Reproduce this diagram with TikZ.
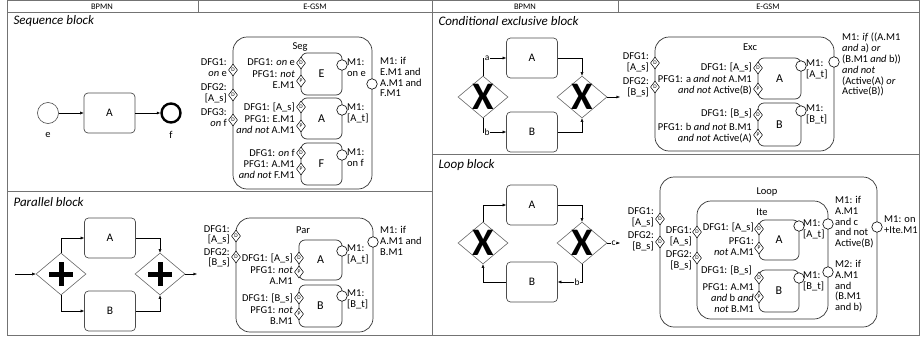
\documentclass[tikz,border=0pt]{standalone}
\usepackage{fontspec}
\setmainfont{Carlito}
\usetikzlibrary{shapes.geometric,arrows.meta}

\begin{document}
\begin{tikzpicture}[
        x=1pt, y=-1pt,
        font=\fontsize{10.5}{10.8}\selectfont,
        >={Latex[length=3.5pt,width=3pt]},
        grid/.style={draw=black!55, line width=0.6pt},
        head/.style={font=\fontsize{8.5}{9}\selectfont},
        blocktitle/.style={anchor=west, font=\fontsize{13}{14}\selectfont\itshape},
        task/.style={draw=black!70, line width=0.7pt, rounded corners=4pt, minimum width=51pt, minimum height=40pt, font=\fontsize{11.5}{12}\selectfont},
        event/.style={circle, draw=black!70, line width=0.6pt, minimum size=21pt, inner sep=0pt},
        endevent/.style={event, draw=black, line width=2.4pt, minimum size=19pt},
        gate/.style={diamond, draw=black!60, line width=0.6pt, minimum width=50pt, minimum height=42pt, inner sep=0pt},
        xgate/.style={gate, label={[font=\fontsize{39}{39}\selectfont\bfseries]center:X}},
        pgate/.style={gate, path picture={
            \draw[draw=black, line width=5pt] ([xshift=-12pt]path picture bounding box.center) -- ([xshift=12pt]path picture bounding box.center)
                ([yshift=-12pt]path picture bounding box.center) -- ([yshift=12pt]path picture bounding box.center);}},
        block/.style={draw=black!80, line width=0.7pt, rounded corners=14pt},
        stage/.style={draw=black!80, line width=0.7pt, rounded corners=6pt, font=\fontsize{12}{12}\selectfont},
        sentry/.style={diamond, draw, fill=white, line width=0.5pt, inner sep=0pt, minimum width=9pt, minimum height=12pt, font=\fontsize{5.5}{5.5}\selectfont},
        mstone/.style={circle, draw, fill=white, line width=0.6pt, minimum size=10.5pt, inner sep=0pt},
        lbl/.style={align=right, anchor=east, inner sep=0pt},
        lbr/.style={align=left, anchor=north west, inner sep=0pt},
        cond/.style={fill=white, inner sep=0.5pt, font=\fontsize{9.5}{9.5}\selectfont}
    ]
    \useasboundingbox (0,0) rectangle (920,340);

    \draw[grid] (7,0.5) rectangle (919.5,335);
    \draw[grid] (7,12) -- (919.5,12);
    \draw[grid] (198,0.5) -- (198,12);
    \draw[grid] (618,0.5) -- (618,12);
    \draw[grid] (432,0.5) -- (432,335);
    \draw[grid] (7,191) -- (432,191);
    \draw[grid] (432,154) -- (919.5,154);

    \node[head] (h1) at (102,6.5) {BPMN};
    \node[head] (h2) at (315,6.5) {E-GSM};
    \node[head] (h3) at (525,6.5) {BPMN};
    \node[head] (h4) at (768,6.5) {E-GSM};

    \node[blocktitle] (t1) at (10,21) {Sequence block};
    \node[blocktitle] (t2) at (10,202) {Parallel block};
    \node[blocktitle] (t3) at (435,21) {Conditional exclusive block};
    \node[blocktitle] (t4) at (435,165) {Loop block};

    % sequence, BPMN
    \node[event] (e) at (48,113) {};
    \node[task] (sA) at (109.5,113) {A};
    \node[endevent] (f) at (171,113) {};
    \node (eLbl) at (48,135) {e};
    \node (fLbl) at (171,135) {f};
    \draw[->] (e) -- (sA);
    \draw[->] (sA) -- (f);

    % sequence, E-GSM
    \node[block, minimum width=139pt, minimum height=152pt] (seg) at (302.5,113) {};
    \node (segT) at (300,47) {Seg};
    \node[stage, minimum width=41pt, minimum height=42pt] (segE) at (321.5,74) {E};
    \node[stage, minimum width=41pt, minimum height=41pt] (segA) at (321.5,118.5) {A};
    \node[stage, minimum width=41pt, minimum height=42pt] (segF) at (321.5,164) {F};
    \node[sentry] (segD1) at (233,70) {D};
    \node[sentry] (segD2) at (233,95) {D};
    \node[sentry] (segD3) at (233,120) {D};
    \node[lbl] at (227,68) {DFG1:\\\textit{on} e};
    \node[lbl] at (227,93) {DFG2:\\{[A\_s]}};
    \node[lbl] at (227,118) {DFG3:\\\textit{on} f};
    \node[sentry] (segED) at (301,63) {D};
    \node[sentry] (segEP) at (301,81) {P};
    \node[lbl] at (295,62) {DFG1: \textit{on} e};
    \node[lbl] at (295,80) {PFG1: \textit{not}\\E.M1};
    \node[sentry] (segAD) at (301,107) {D};
    \node[sentry] (segAP) at (301,126) {P};
    \node[lbl] at (295,107) {DFG1: [A\_s]};
    \node[lbl] at (295,125) {PFG1: E.M1\\\textit{and not} A.M1};
    \node[sentry] (segFD) at (301,153) {D};
    \node[sentry] (segFP) at (301,169) {P};
    \node[lbl] at (295,153) {DFG1: \textit{on} f};
    \node[lbl] at (295,170) {PFG1: A.M1\\\textit{and not} F.M1};
    \node[mstone] (segEM) at (342,65) {};
    \node[mstone] (segAM) at (342,110) {};
    \node[mstone] (segFM) at (342,155) {};
    \node[mstone] (segM) at (372,84) {};
    \node[lbr] at (347,59) {M1:\\on e};
    \node[lbr] at (347,104) {M1:\\{[A\_t]}};
    \node[lbr] at (347,149) {M1:\\on f};
    \node[lbr] at (380,57) {M1: if\\E.M1 and\\A.M1 and\\F.M1};

    % parallel, BPMN
    \coordinate (pIn) at (15,274);
    \coordinate (pOut) at (197,274);
    \node[pgate] (pG1) at (61,274) {};
    \node[task] (pA) at (110,238) {A};
    \node[task] (pB) at (110,311) {B};
    \node[pgate] (pG2) at (160,274) {};
    \draw[->] (pIn) -- (pG1);
    \draw[->] (pG1.north) |- (pA);
    \draw[->] (pG1.south) |- (pB);
    \draw[->] (pA) -| (pG2.north);
    \draw[->] (pB) -| (pG2.south);
    \draw[->] (pG2) -- (pOut);

    % parallel, E-GSM
    \node[block, minimum width=137pt, minimum height=114pt] (par) at (304.5,275) {};
    \node (parT) at (303,230) {Par};
    \node[stage, minimum width=43pt, minimum height=40pt] (parA) at (320.5,260) {A};
    \node[stage, minimum width=43pt, minimum height=42pt] (parB) at (320.5,306) {B};
    \node[sentry] (parD1) at (236,236) {D};
    \node[sentry] (parD2) at (236,257) {D};
    \node[lbl, font=\fontsize{10.5}{9.8}\selectfont] at (230,235) {DFG1:\\{[A\_s]}};
    \node[lbl, font=\fontsize{10.5}{9.8}\selectfont] at (230,257.5) {DFG2:\\{[B\_s]}};
    \node[sentry] (parAD) at (299,258) {D};
    \node[sentry] (parAP) at (299,272) {P};
    \node[lbl] at (293,258) {DFG1: [A\_s]};
    \node[lbl] at (293,276) {PFG1: \textit{not}\\A.M1};
    \node[sentry] (parBD) at (299,298) {D};
    \node[sentry] (parBP) at (299,314) {P};
    \node[lbl] at (293,298) {DFG1: [B\_s]};
    \node[lbl] at (293,316) {PFG1: \textit{not}\\B.M1};
    \node[mstone] (parAM) at (342,251) {};
    \node[mstone] (parBM) at (342,296) {};
    \node[mstone] (parM) at (373,242) {};
    \node[lbr] at (347,245) {M1:\\{[A\_t]}};
    \node[lbr] at (347,290) {M1:\\{[B\_t]}};
    \node[lbr] at (380,226) {M1: if\\A.M1 and\\B.M1};

    % exclusive, BPMN
    \coordinate (xOut) at (620,97);
    \node[xgate] (xG1) at (483,97) {};
    \node[task] (xA) at (532,58) {A};
    \node[task] (xB) at (532,132) {B};
    \node[xgate] (xG2) at (582,97) {};
    \draw[->] (xG1.north) |- (xA) node[cond, pos=0.59] {a};
    \draw[->] (xG1.south) |- (xB) node[cond, pos=0.59] {b};
    \draw[->] (xA) -| (xG2.north);
    \draw[->] (xB) -| (xG2.south);
    \draw[->] (xG2) -- (xOut);

    % exclusive, E-GSM
    \node[block, minimum width=179pt, minimum height=114pt] (exc) at (744.5,94) {};
    \node (excT) at (750,47) {Exc};
    \node[stage, minimum width=43pt, minimum height=41pt] (excA) at (779.5,78.5) {A};
    \node[stage, minimum width=43pt, minimum height=43pt] (excB) at (779.5,124.5) {B};
    \node[sentry] (excD1) at (655,63) {D};
    \node[sentry] (excD2) at (655,87) {D};
    \node[lbl] at (649,62) {DFG1:\\{[A\_s]}};
    \node[lbl] at (649,87) {DFG2:\\{[B\_s]}};
    \node[sentry] (excAD) at (758,68) {D};
    \node[sentry] (excAP) at (758,89) {P};
    \node[lbl] at (752,67) {DFG1: [A\_s]};
    \node[lbl] at (752,85) {PFG1: a \textit{and not} A.M1\\\textit{and not} Active(B)};
    \node[sentry] (excBD) at (758,115) {D};
    \node[sentry] (excBP) at (758,135) {P};
    \node[lbl] at (752,113) {DFG1: [B\_s]};
    \node[lbl] at (752,133) {PFG1: b \textit{and not} B.M1\\\textit{and not} Active(A)};
    \node[mstone] (excAM) at (801,66) {};
    \node[mstone] (excBM) at (801,111) {};
    \node[mstone] (excM) at (834,62) {};
    \node[lbr] at (806,60) {M1:\\{[A\_t]}};
    \node[lbr] at (806,105) {M1:\\{[B\_t]}};
    \node[lbr] at (842,33) {M1: \textit{if} ((A.M1\\\textit{and} a) \textit{or}\\(B.M1 \textit{and} b))\\\textit{and not}\\(Active(A) \textit{or}\\Active(B))};

    % loop, BPMN
    \coordinate (lOut) at (620,243);
    \node[xgate] (lG1) at (483,243) {};
    \node[task] (lA) at (532,205) {A};
    \node[task] (lB) at (532,282) {B};
    \node[xgate] (lG2) at (582,243) {};
    \draw[->] (lG1.north) |- (lA);
    \draw[->] (lA) -| (lG2.north);
    \draw[->] (lG2.south) |- (lB) node[cond, pos=0.6] {b};
    \draw[->] (lB) -| (lG1.south);
    \draw[->] (lG2) -- (lOut) node[cond, pos=0.5] {c};

    % loop, E-GSM
    \node[block, minimum width=217pt, minimum height=150pt] (loop) at (768.5,252) {};
    \node (loopT) at (767,192) {Loop};
    \node[block, minimum width=131pt, minimum height=118pt] (ite) at (762.5,260) {};
    \node (iteT) at (762,212) {Ite};
    \node[stage, minimum width=40pt, minimum height=40pt] (iteA) at (779,240) {A};
    \node[stage, minimum width=40pt, minimum height=42pt] (iteB) at (779,291) {B};
    \node[sentry] (loopD1) at (660,219) {D};
    \node[sentry] (loopD2) at (660,242) {D};
    \node[lbl] at (654,217) {DFG1:\\{[A\_s]}};
    \node[lbl] at (654,241) {DFG2:\\{[B\_s]}};
    \node[sentry] (iteD1) at (697,232) {D};
    \node[sentry] (iteD2) at (697,258) {D};
    \node[lbl] at (692,236) {DFG1:\\{[A\_s]}};
    \node[lbl] at (692,260) {DFG2:\\{[B\_s]}};
    \node[sentry] (iteAD) at (759,229) {D};
    \node[sentry] (iteAP) at (759,248) {P};
    \node[lbl] at (754,227) {DFG1: [A\_s]};
    \node[lbl] at (754,247) {PFG1:\\\textit{not} A.M1};
    \node[sentry] (iteBD) at (759,278) {D};
    \node[sentry] (iteBP) at (759,297) {P};
    \node[lbl] at (752,270) {DFG1: [B\_s]};
    \node[lbl] at (754,298) {PFG1: A.M1\\\textit{and} b \textit{and}\\\textit{not} B.M1};
    \node[mstone] (iteAM) at (799,226) {};
    \node[mstone] (iteBM) at (799,278) {};
    \node[mstone] (iteM1) at (828,224) {};
    \node[mstone] (iteM2) at (828,272) {};
    \node[mstone] (loopM) at (877,227) {};
    \node[lbr] at (803,220) {M1:\\{[A\_t]}};
    \node[lbr] at (803,272) {M1:\\{[B\_t]}};
    \node[lbr] at (835,196) {M1: if\\A.M1\\and c\\and not\\Active(B)};
    \node[lbr] at (835,260) {M2: if\\A.M1\\and\\(B.M1\\and b)};
    \node[lbr] at (884,216) {M1: on\\+Ite.M1};
\end{tikzpicture}
\end{document}
